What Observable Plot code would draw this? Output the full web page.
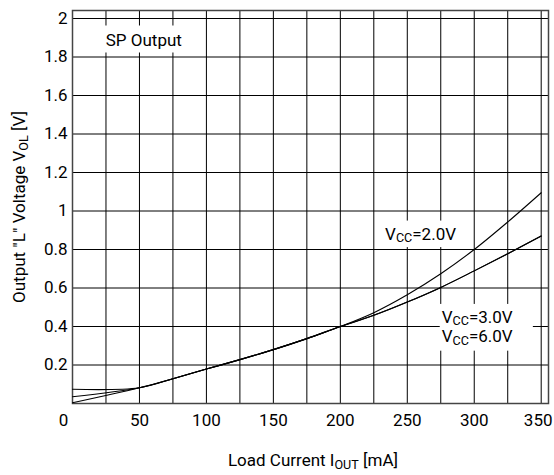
<!DOCTYPE html>
<html><head><meta charset="utf-8">
<script src="https://cdn.jsdelivr.net/npm/d3@7"></script>
<script src="https://cdn.jsdelivr.net/npm/@observablehq/plot@0.6"></script>
<style>
html,body{margin:0;padding:0;background:#fff;}
#chart svg{font-family:Roboto,"Liberation Sans",sans-serif;}
</style></head><body><div id="chart"></div>
<script>
// Load current [mA]
const current = [0, 50, 75, 100, 125, 150, 175, 200, 225, 250, 275, 300, 325, 350];
// Output "L" voltage [V]
const vcc2 = [0.074, 0.082, 0.129, 0.179, 0.228, 0.28, 0.337, 0.40, 0.472, 0.565, 0.674, 0.80, 0.943, 1.095];
const vcc3 = [0.035, 0.082, 0.129, 0.179, 0.228, 0.28, 0.337, 0.40, 0.458, 0.527, 0.603, 0.689, 0.778, 0.87];
const vcc6 = [0.004, 0.082, 0.129, 0.179, 0.228, 0.28, 0.337, 0.40, 0.458, 0.527, 0.603, 0.689, 0.778, 0.87];
const seriesNames = ["2.0V", "3.0V", "6.0V"];

const xGrid = [0, 25, 50, 75, 100, 125, 150, 175, 200, 225, 250, 275, 300, 325, 350];
const xTicks = [0, 50, 100, 150, 200, 250, 300, 350];
const yTicks = [0.2, 0.4, 0.6, 0.8, 1.0, 1.2, 1.4, 1.6, 1.8, 2.0];

const noteText = ["SP Output", "V_{CC}=2.0V", "V_{CC}=3.0V", "V_{CC}=6.0V"];
const noteX = [25.2, 233.8, 276.1, 276.1];
const noteY = [1.852, 0.849, 0.416, 0.316];
const noteGroup = [0, 1, 2, 2];

const xTitle = "Load Current I_{OUT} [mA]";
const yTitle = "Output \"L\" Voltage V_{OL} [V]";

const rows = [];
[vcc2, vcc3, vcc6].forEach((vals, k) => {
  current.forEach((c, i) => rows.push({x: c, y: vals[i], s: seriesNames[k]}));
});

const FS = 17;
const FONT = "Roboto,'Liberation Sans',sans-serif";
const first = xTicks[0], last = xTicks[xTicks.length - 1];
const plot = Plot.plot({
  width: 554,
  height: 475,
  marginTop: 10,
  marginBottom: 72,
  marginLeft: 72,
  marginRight: 6,
  x: {domain: [0, 355.45], axis: null},
  y: {domain: [0, 2.0416], axis: null},
  style: {background: "#fff", color: "#000", fontSize: FS + "px", fontFamily: FONT},
  marks: [
    Plot.ruleX(xGrid, {stroke: "#000", strokeWidth: 1, strokeOpacity: 1}),
    Plot.ruleY(yTicks, {stroke: "#000", strokeWidth: 1, strokeOpacity: 1}),
    Plot.frame({stroke: "#444", strokeWidth: 1.5}),
    Plot.line(rows, {x: "x", y: "y", z: "s", curve: "catmull-rom", stroke: "#000", strokeWidth: 1.1}),
    Plot.axisX(xTicks.filter(d => d !== first && d !== last), {label: null, tickSize: 0, tickPadding: 10, fontSize: FS, tickFormat: d => String(d)}),
    Plot.axisX([first], {label: null, tickSize: 0, tickPadding: 10, fontSize: FS, dx: -9, tickFormat: d => String(d)}),
    Plot.axisX([last], {label: null, tickSize: 0, tickPadding: 10, fontSize: FS, dx: -3, tickFormat: d => String(d)}),
    Plot.axisY(yTicks, {label: null, tickSize: 0, tickPadding: 5, fontSize: FS, tickFormat: d => String(+d.toFixed(1))})
  ]
});
document.getElementById("chart").append(plot);

const svg = d3.select(plot);
const sx = plot.scale("x"), sy = plot.scale("y");

function richText(sel, str, size) {
  const t = sel.append("text").attr("font-size", size).attr("fill", "#000").attr("font-family", FONT);
  const parts = str.split(/(_\{[^}]*\})/).filter(p => p.length);
  let shifted = false;
  parts.forEach(p => {
    if (p.startsWith("_{")) {
      t.append("tspan").attr("font-size", size * 0.74).attr("dy", 2.5).text(p.slice(2, -1));
      shifted = true;
    } else {
      const ts = t.append("tspan").text(p);
      if (shifted) { ts.attr("dy", -2.5); shifted = false; }
    }
  });
  return t;
}

// annotations with white boxes
const boxLayer = svg.append("g");
const textLayer = svg.append("g");
const texts = noteText.map((s, i) =>
  richText(textLayer, s, FS).attr("x", sx.apply(noteX[i])).attr("y", sy.apply(noteY[i])).attr("text-anchor", "start")
);
const pads = [[5, 5, 4, 2], [3, 3, 3, 2], [2, 3, 20, 3]];
[0, 1, 2].forEach(g => {
  const boxes = texts.filter((t, i) => noteGroup[i] === g).map(t => t.node().getBBox());
  const x0 = d3.min(boxes, b => b.x), y0 = d3.min(boxes, b => b.y);
  const x1 = d3.max(boxes, b => b.x + b.width), y1 = d3.max(boxes, b => b.y + b.height);
  const p = pads[g];
  boxLayer.append("rect").attr("x", x0 - p[0]).attr("y", y0 - p[1])
    .attr("width", x1 - x0 + p[0] + p[2]).attr("height", y1 - y0 + p[1] + p[3]).attr("fill", "#fff");
});

// axis titles
richText(svg, xTitle, FS).attr("x", 313).attr("y", 466).attr("text-anchor", "middle");
richText(svg.append("g").attr("transform", "translate(25,207) rotate(-90)"), yTitle, FS)
  .attr("x", 0).attr("y", 0).attr("text-anchor", "middle");
</script></body></html>
